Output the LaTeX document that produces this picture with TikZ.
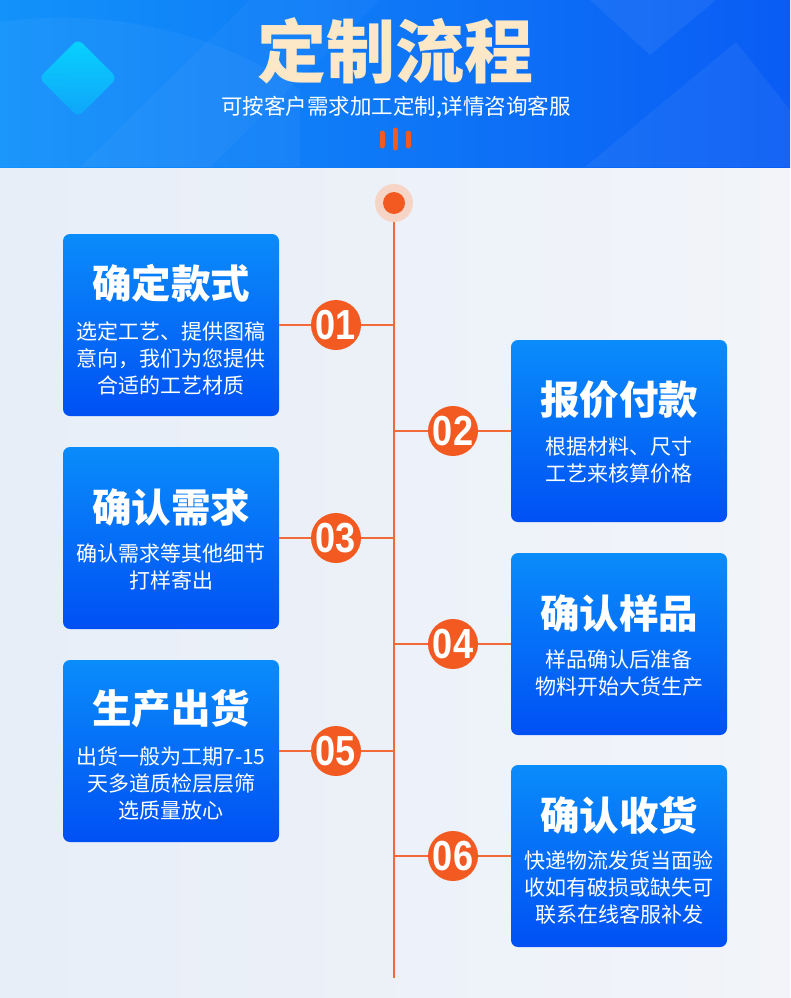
\documentclass[tikz,border=0pt]{standalone}
\usepackage{fontspec}
\setmainfont{Noto Sans CJK SC}
\newfontfamily\numfont{Liberation Sans}
\definecolor{hdl}{HTML}{1292FA}
\definecolor{hdr}{HTML}{0A5CF4}
\definecolor{bgl}{HTML}{E7EEF8}
\definecolor{bgr}{HTML}{F2F4F9}
\definecolor{boxtop}{HTML}{0A8CFA}
\definecolor{boxbot}{HTML}{0050F4}
\definecolor{orng}{HTML}{F25A22}
\definecolor{lineor}{HTML}{F26A38}
\definecolor{halo}{HTML}{F7D5C6}
\definecolor{cream}{HTML}{FCE7C6}
\tikzset{
  stepbox/.style={rectangle, rounded corners=7pt, minimum width=216pt, minimum height=182pt,
    top color=boxtop, bottom color=boxbot, draw=none, inner sep=0pt},
  steptitle/.style={text=white, font=\fontsize{39.5}{40}\selectfont\bfseries, inner sep=0pt},
  stepbody/.style={text=white, font=\fontsize{21}{27}\selectfont, align=center, inner sep=0pt},
  num/.style={circle, fill=orng, minimum size=50pt, inner sep=0pt, text=white,
    font=\numfont\bfseries\fontsize{42}{42}\selectfont},
  link/.style={draw=lineor, line width=1.5pt},
  pill/.style={draw=orng, line width=5pt, line cap=round}
}
\begin{document}
\begin{tikzpicture}[x=1pt,y=-1pt]
\useasboundingbox (0,0) rectangle (790,998);
% background
\shade[left color=bgl, right color=bgr] (0,167) rectangle (790,998);
% header
\shade[left color=hdl, right color=hdr] (0,0) rectangle (790,167);
\fill[white, opacity=0.06] (590,0) -- (650,55) -- (716,0) -- cycle;
\fill[white, opacity=0.05] (585,167) -- (736,42) -- (790,110) -- (790,167) -- cycle;
\fill[white, opacity=0.03] (80,167) -- (250,0) -- (380,0) -- (210,167) -- cycle;
\fill[white, opacity=0.04] (0,22) .. controls (120,5) and (230,40) .. (300,90) -- (300,167) -- (0,167) -- cycle;
\shade[top color=cyan!70!hdl, bottom color=hdl!80!cyan, opacity=0.85, rounded corners=6pt]
  (78,39) -- (117,78) -- (78,117) -- (39,78) -- cycle;
% title
\node[text=cream, font=\fontsize{69}{69}\selectfont\bfseries, inner sep=0pt] (title) at (395,51) {定制流程};
\node[text=white, font=\fontsize{21.5}{22}\selectfont, inner sep=0pt] (sub) at (396,107) {可按客户需求加工定制,详情咨询客服};
\draw[pill] (382,133) -- (382,146);
\draw[pill] (395,130) -- (395,148);
\draw[pill] (408,133) -- (408,146);
% spine
\coordinate (top) at (394,203);
\coordinate (bot) at (394,978);
\draw[link] (top) -- (bot);
\node[circle, fill=halo, minimum size=38pt, inner sep=0pt] (halo) at (top) {};
\node[circle, fill=orng, minimum size=22pt, inner sep=0pt] (dot) at (top) {};
% boxes
\node[stepbox] (b1) at (171,325) {};
\node[stepbox] (b2) at (619,431) {};
\node[stepbox] (b3) at (171,538) {};
\node[stepbox] (b4) at (619,644) {};
\node[stepbox] (b5) at (171,751) {};
\node[stepbox] (b6) at (619,856) {};
% spine points
\foreach \i/\y in {1/325,2/431,3/538,4/644,5/751,6/856} { \coordinate (s\i) at (394,\y); }
\draw[link] (b1.east) -- (s1);
\draw[link] (b2.west) -- (s2);
\draw[link] (b3.east) -- (s3);
\draw[link] (b4.west) -- (s4);
\draw[link] (b5.east) -- (s5);
\draw[link] (b6.west) -- (s6);
% numbers
\node[num] (n1) at (336,325) {\scalebox{0.86}[1]{01}};
\node[num] (n2) at (453,431) {\scalebox{0.86}[1]{02}};
\node[num] (n3) at (336,538) {\scalebox{0.86}[1]{03}};
\node[num] (n4) at (453,644) {\scalebox{0.86}[1]{04}};
\node[num] (n5) at (336,751) {\scalebox{0.86}[1]{05}};
\node[num] (n6) at (453,856) {\scalebox{0.86}[1]{06}};
% texts
\node[steptitle] (t1) at (171,283) {确定款式};
\node[stepbody] (d1) at (171,358) {选定工艺、提供图稿\\意向，我们为您提供\\合适的工艺材质};
\node[steptitle] (t2) at (619,400) {报价付款};
\node[stepbody] (d2) at (619,460.5) {根据材料、尺寸\\工艺来核算价格};
\node[steptitle] (t3) at (171,507) {确认需求};
\node[stepbody] (d3) at (171,567) {确认需求等其他细节\\打样寄出};
\node[steptitle] (t4) at (619,613) {确认样品};
\node[stepbody] (d4) at (619,673.5) {样品确认后准备\\物料开始大货生产};
\node[steptitle] (t5) at (171,709) {生产出货};
\node[stepbody] (d5) at (171,783) {出货一般为工期7-15\\天多道质检层层筛\\选质量放心};
\node[steptitle] (t6) at (619,815) {确认收货};
\node[stepbody] (d6) at (619,888) {快递物流发货当面验\\收如有破损或缺失可\\联系在线客服补发};
\end{tikzpicture}
\end{document}
